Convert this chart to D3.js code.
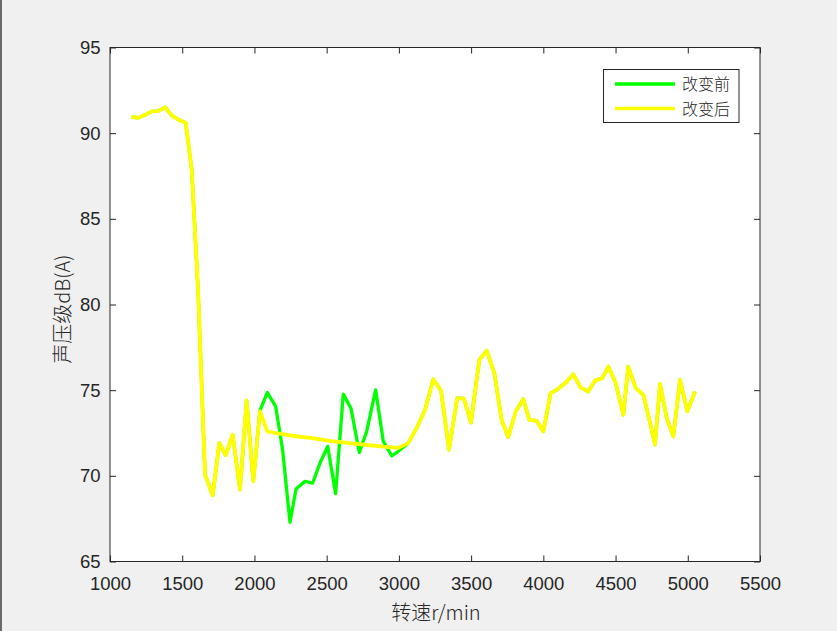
<!DOCTYPE html>
<html>
<head>
<meta charset="utf-8">
<script src="https://cdn.jsdelivr.net/npm/d3@7"></script>
<style>
html,body{margin:0;padding:0;background:#f0f0f0;}
svg{display:block;}
</style>
</head>
<body>
<svg id="chart" width="837" height="631"></svg>
<script>
// ---- data ----
const rpm = [1150,1196,1245,1289,1334,1381,1427,1473,1524,1566,1610,1658,1711,1757,1801,1849,1900,1946,1992,2038,
  2089,2147,2195,2246,2288,2350,2403,2454,2507,2562,2615,2668,2726,2777,2839,2892,2950,2996,
  3065,3123,3181,3238,3292,3347,3404,3451,3499,3557,3608,3661,3712,3757,3809,3861,3903,3954,4000,
  4051,4104,4155,4207,4259,4311,4358,4408,4450,4501,4554,4588,4640,4692,4734,4773,4808,4854,4900,4946,4997,5050];
const before = [90.94,90.90,91.08,91.27,91.29,91.52,91.04,90.79,90.61,87.84,80.8,70.07,68.87,71.92,71.20,72.40,69.20,74.40,69.68,73.81,
  74.86,74.05,71.52,67.29,69.23,69.68,69.58,70.75,71.72,68.96,74.77,73.95,71.37,72.59,75.02,72.01,71.17,71.43,
  71.91,72.79,73.85,75.64,74.96,71.52,74.54,74.50,73.11,76.77,77.31,75.99,73.23,72.26,73.76,74.48,73.27,73.21,72.59,
  74.83,75.08,75.44,75.93,75.15,74.92,75.56,75.70,76.38,75.41,73.56,76.38,75.12,74.73,73.27,71.82,75.37,73.37,72.30,75.60,73.76,74.92];
const after = [90.94,90.90,91.08,91.27,91.29,91.52,91.04,90.79,90.61,87.84,80.8,70.07,68.87,71.92,71.20,72.40,69.20,74.40,69.68,73.76,
  72.59,72.50,72.43,72.36,72.31,72.25,72.20,72.13,72.06,72.00,71.95,71.90,71.85,71.80,71.75,71.70,71.66,71.63,
  71.91,72.79,73.85,75.64,74.96,71.52,74.54,74.50,73.11,76.77,77.31,75.99,73.23,72.26,73.76,74.48,73.27,73.21,72.59,
  74.83,75.08,75.44,75.93,75.15,74.92,75.56,75.70,76.38,75.41,73.56,76.38,75.12,74.73,73.27,71.82,75.37,73.37,72.30,75.60,73.76,74.92];
const xTicks = [1000,1500,2000,2500,3000,3500,4000,4500,5000,5500];
const yTicks = [65,70,75,80,85,90,95];
const seriesNames = ["改变前","改变后"];
const seriesColors = ["#00ff00","#ffff00"];
const xLabel = "转速r/min";
const yLabel = "声压级dB(A)";

// ---- layout ----
const L = 110, R = 760, T = 47.5, B = 561.5;
const svg = d3.select("#chart");
svg.append("rect").attr("x",0).attr("y",0).attr("width",837).attr("height",631).attr("fill","#f0f0f0");
svg.append("rect").attr("x",0).attr("y",0).attr("width",2).attr("height",631).attr("fill","#6a6a6a");
svg.append("rect").attr("x",L).attr("y",T).attr("width",R-L).attr("height",B-T).attr("fill","#fff");

const x = d3.scaleLinear().domain([1000,5500]).range([L,R]);
const y = d3.scaleLinear().domain([65,95]).range([B,T]);

const tickFont = "'Liberation Sans', Arial, sans-serif";
const axisColor = "#262626";

function styleAxis(g){
  g.select(".domain").remove();
  g.selectAll(".tick line").attr("stroke",axisColor).attr("stroke-width",1);
  g.selectAll(".tick text").attr("fill",axisColor).style("font-family",tickFont).style("font-size","18.5px");
}
svg.append("g").attr("transform",`translate(0,${B})`)
  .call(d3.axisBottom(x).tickValues(xTicks).tickSize(-6).tickPadding(15).tickFormat(d3.format("d")))
  .call(styleAxis);
svg.append("g").attr("transform",`translate(0,${T})`)
  .call(d3.axisTop(x).tickValues(xTicks).tickSize(-6).tickFormat(""))
  .call(styleAxis);
svg.append("g").attr("transform",`translate(${L},0)`)
  .call(d3.axisLeft(y).tickValues(yTicks).tickSize(-6).tickPadding(9.5).tickFormat(d3.format("d")))
  .call(styleAxis);
svg.append("g").attr("transform",`translate(${R},0)`)
  .call(d3.axisRight(y).tickValues(yTicks).tickSize(-6).tickFormat(""))
  .call(styleAxis);

svg.append("rect").attr("x",L).attr("y",T).attr("width",R-L).attr("height",B-T)
  .attr("fill","none").attr("stroke",axisColor).attr("stroke-width",1);

// lines
const line = d3.line().x((d,i)=>x(rpm[i])).y(d=>y(d));
const widths = [3.3, 3.8];
[before, after].forEach((vals,k)=>{
  svg.append("path").datum(vals).attr("d",line)
    .attr("fill","none").attr("stroke",seriesColors[k]).attr("stroke-width",widths[k])
    .attr("stroke-linejoin","round");
});

// axis labels
const cjkFont = "'Noto Sans CJK SC', 'Liberation Sans', sans-serif";
svg.append("text").attr("x",436).attr("y",620).attr("text-anchor","middle")
  .attr("fill",axisColor).style("font-family",cjkFont).style("font-size","20px").style("font-weight","300")
  .text(xLabel);
svg.append("text").attr("transform",`translate(70,309) rotate(-90)`).attr("text-anchor","middle")
  .attr("fill",axisColor).style("font-family",cjkFont).style("font-size","20px").style("font-weight","300")
  .text(yLabel);

// legend
const lg = svg.append("g");
lg.append("rect").attr("x",603.5).attr("y",69.5).attr("width",135.5).attr("height",53)
  .attr("fill","#fff").attr("stroke",axisColor).attr("stroke-width",1);
seriesNames.forEach((n,k)=>{
  const yy = 84 + k*24.5;
  lg.append("line").attr("x1",615).attr("x2",675).attr("y1",yy).attr("y2",yy)
    .attr("stroke",seriesColors[k]).attr("stroke-width",3.5);
  lg.append("text").attr("x",682).attr("y",yy+6).attr("fill",axisColor)
    .style("font-family",cjkFont).style("font-size","16px").style("font-weight","300").text(n);
});
</script>
</body>
</html>
